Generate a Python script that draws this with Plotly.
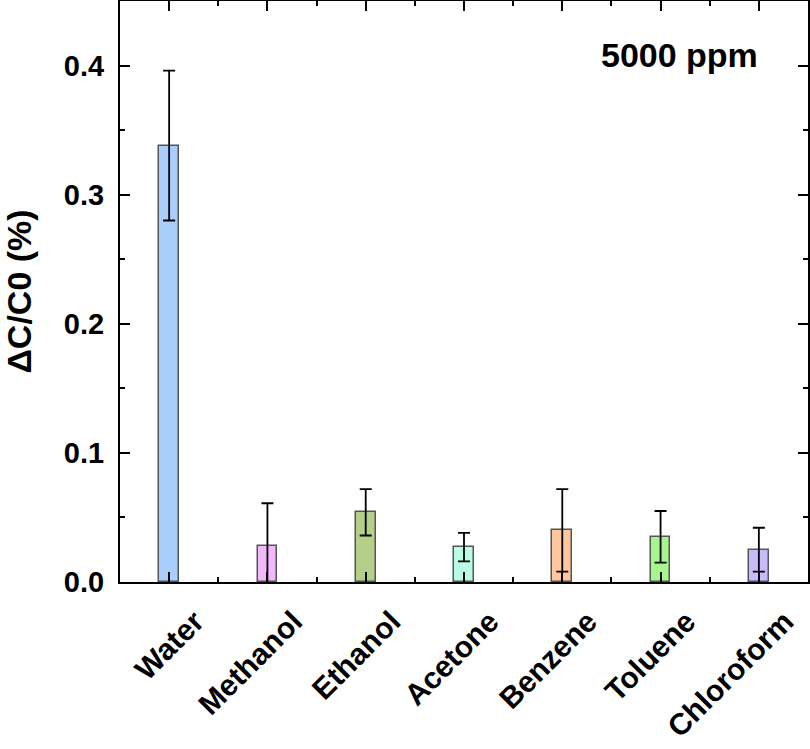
import plotly.graph_objects as go

categories = ["Water", "Methanol", "Ethanol", "Acetone", "Benzene", "Toluene", "Chloroform"]
values = [0.338, 0.028, 0.054, 0.027, 0.040, 0.035, 0.025]
errors = [0.058, 0.033, 0.018, 0.011, 0.032, 0.020, 0.017]
colors = ["#A9CEFD", "#F2B8FA", "#B3CF8A", "#B9FCE8", "#FEC79D", "#A6F58E", "#C8BBFC"]
y_ticks = [0.0, 0.1, 0.2, 0.3, 0.4]

xpos = list(range(len(categories)))
FONT = "Liberation Sans, Arial, sans-serif"

fig = go.Figure()
fig.add_trace(go.Bar(
    x=xpos, y=values, width=0.2,
    marker=dict(color=colors, line=dict(color="#555555", width=1.5)),
    error_y=dict(type="data", array=errors, visible=True, color="black",
                 thickness=1.8, width=6),
    showlegend=False,
))

fig.update_layout(
    width=810, height=749,
    margin=dict(l=120, r=2, t=1, b=167, autoexpand=False),
    plot_bgcolor="white", paper_bgcolor="white",
    font=dict(family=FONT, color="black"),
    bargap=0,
)
fig.update_xaxes(
    range=[-0.5, 6.5], automargin=False,
    tickmode="array", tickvals=xpos, ticktext=categories,
    tickangle=-45,
    tickfont=dict(family=FONT, size=30, weight="bold", color="black"),
    ticks="inside", ticklen=10, tickwidth=2, tickcolor="black",
    ticklabelstandoff=8, ticklabelshift=26,
    minor=dict(tickmode="array", tickvals=[i + 0.5 for i in xpos[:-1]],
               ticks="inside", ticklen=5, tickwidth=2, tickcolor="black"),
    showline=True, linewidth=2, linecolor="black", mirror="ticks",
    showgrid=False, zeroline=False,
)
fig.update_yaxes(
    range=[0, 0.45], automargin=False,
    tickmode="array", tickvals=y_ticks, ticktext=[f"{v:.1f}" for v in y_ticks],
    tickfont=dict(family=FONT, size=29, weight="bold", color="black"),
    ticks="inside", ticklen=10, tickwidth=2, tickcolor="black",
    ticklabelstandoff=8,
    minor=dict(tickmode="linear", tick0=0.05, dtick=0.1,
               ticks="inside", ticklen=5, tickwidth=2, tickcolor="black"),
    showline=True, linewidth=2, linecolor="black", mirror="ticks",
    showgrid=False, zeroline=False,
    title=dict(text="ΔC/C0 (%)", font=dict(family=FONT, size=34, weight="bold"),
               standoff=24),
)
fig.add_annotation(
    text="5000 ppm", xref="paper", yref="paper", x=0.8125, y=0.907,
    xanchor="center", yanchor="middle",
    showarrow=False, font=dict(family=FONT, size=34, weight="bold", color="black"),
)

fig.write_html(
    "out.html",
    config={"displayModeBar": False},
    post_script="document.body.style.margin='0px';document.body.style.overflow='hidden';",
)
